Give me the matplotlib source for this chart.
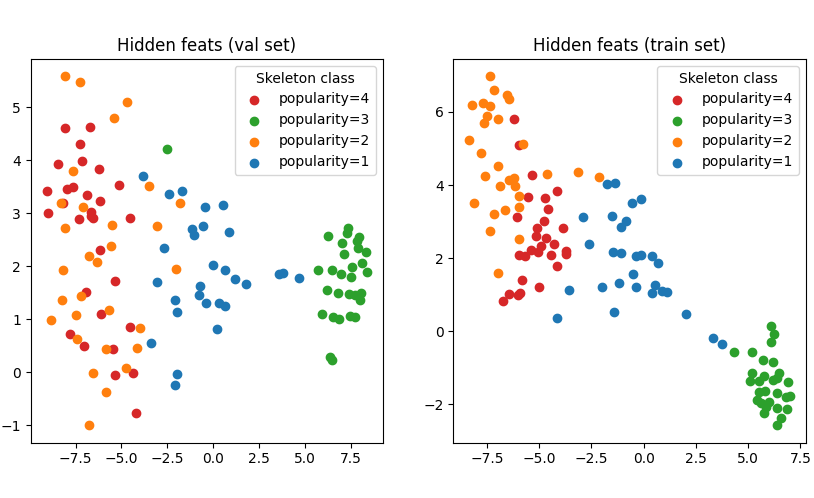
import matplotlib
matplotlib.use("Agg")
import matplotlib.pyplot as plt

# hidden features, validation set (x, y per class)
val_pop4_x = [-8.08, -6.72, -7.27, -8.47, -7.16, -6.23, -5.14, -9.07, -7.98, -7.65,
              -6.88, -6.18, -8.19, -9.01, -7.32, -6.67, -6.67, -6.56, -4.54, -6.18,
              -5.36, -6.92, -6.14, -4.55, -7.81, -7.05, -5.45, -4.35, -5.36, -4.21]
val_pop4_y = [4.61, 4.62, 4.30, 3.92, 3.98, 3.83, 3.53, 3.42, 3.45, 3.49,
              3.35, 3.23, 3.19, 3.00, 2.89, 3.03, 2.94, 2.91, 2.91, 2.31,
              1.72, 1.52, 1.10, 0.86, 0.73, 0.50, 0.43, -0.01, -0.06, -0.77]

val_pop3_x = [-2.52, 6.26, 7.34, 7.28, 7.96, 7.03, 7.81, 7.90, 8.32, 7.14,
              5.72, 6.46, 6.97, 7.56, 7.50, 8.10, 8.37, 6.21, 6.81, 7.39,
              7.72, 8.05, 8.01, 5.92, 6.54, 6.86, 7.45, 7.74, 6.37, 6.48]
val_pop3_y = [4.22, 2.57, 2.72, 2.63, 2.55, 2.44, 2.47, 2.34, 2.27, 2.23,
              1.92, 1.93, 1.85, 1.99, 1.80, 2.06, 1.89, 1.55, 1.50, 1.48,
              1.45, 1.50, 1.37, 1.09, 1.05, 1.01, 1.07, 1.05, 0.28, 0.24]

val_pop2_x = [-8.08, -7.27, -4.70, -5.41, -7.65, -3.50, -1.81, -8.30, -7.10, -8.08,
              -5.52, -3.07, -5.59, -6.78, -6.32, -2.05, -8.19, -7.21, -8.25, -5.68,
              -7.48, -8.81, -3.99, -7.41, -5.85, -4.16, -4.76, -6.56, -5.83, -6.78]
val_pop2_y = [5.58, 5.48, 5.09, 4.79, 3.80, 3.51, 3.20, 3.20, 3.11, 2.73,
              2.78, 2.76, 2.38, 2.19, 2.08, 1.95, 1.93, 1.44, 1.37, 1.18,
              1.08, 0.99, 0.84, 0.63, 0.43, 0.46, 0.08, -0.02, -0.38, -1.00]

val_pop1_x = [-3.83, -2.41, -1.70, -0.45, 0.53, -1.16, -0.56, -1.05, 0.85, -2.68,
              -0.01, 0.64, 1.19, 1.77, 3.56, 3.81, 4.68, -3.08, -0.74, -0.79,
              -0.37, 0.30, 0.64, -2.08, -1.97, 0.21, -3.39, -1.97, -2.10]
val_pop1_y = [3.70, 3.37, 3.42, 3.11, 3.15, 2.71, 2.76, 2.59, 2.64, 2.35,
              2.02, 1.92, 1.76, 1.67, 1.86, 1.87, 1.78, 1.70, 1.63, 1.45,
              1.30, 1.30, 1.25, 1.37, 1.13, 0.82, 0.56, -0.04, -0.24]

# hidden features, training set
train_pop4_x = [-6.18, -5.96, -5.32, -4.13, -5.54, -4.73, -4.56, -6.07, -4.78, -3.87,
                -5.08, -5.13, -4.65, -4.27, -4.91, -5.38, -5.04, -3.71, -3.70, -5.96,
                -5.69, -4.41, -4.14, -5.81, -5.91, -5.99, -4.99, -6.42, -6.71]
train_pop4_y = [5.80, 5.09, 4.27, 3.84, 3.67, 3.64, 3.34, 3.12, 3.03, 2.83,
                2.83, 2.61, 2.54, 2.38, 2.34, 2.23, 2.16, 2.21, 2.12, 2.08,
                2.06, 2.08, 1.79, 1.39, 1.06, 1.00, 1.22, 1.02, 0.83]

train_pop3_x = [4.33, 5.17, 6.10, 6.24, 6.10, 5.71, 6.19, 5.17, 5.76, 6.50,
                5.09, 5.52, 6.18, 6.37, 6.91, 5.52, 5.81, 6.38, 6.83, 6.99,
                5.41, 5.64, 6.00, 5.88, 6.38, 6.85, 5.76, 6.59, 6.38]
train_pop3_y = [-0.56, -0.56, 0.15, -0.07, -0.29, -0.78, -0.83, -1.15, -1.21, -1.15,
                -1.37, -1.37, -1.34, -1.29, -1.38, -1.65, -1.62, -1.69, -1.80, -1.78,
                -1.89, -1.95, -1.93, -2.06, -2.09, -2.12, -2.24, -2.38, -2.57]

train_pop2_x = [-7.33, -7.14, -6.52, -6.45, -8.19, -7.66, -7.36, -7.47, -6.98, -7.62,
                -5.75, -8.33, -7.76, -6.95, -7.57, -4.61, -3.12, -2.12, -6.85, -6.44,
                -6.18, -6.16, -5.94, -8.11, -6.61, -5.94, -7.14, -7.33, -5.94, -6.95]
train_pop2_y = [6.97, 6.61, 6.45, 6.36, 6.20, 6.24, 6.15, 5.90, 5.80, 5.69,
                5.11, 5.22, 4.87, 4.51, 4.24, 4.29, 4.35, 4.21, 3.97, 4.13,
                4.19, 3.97, 3.69, 3.50, 3.31, 3.39, 3.20, 2.74, 2.53, 1.59]

train_pop1_x = [-1.75, -1.39, -0.54, -0.11, -2.89, -1.50, -0.86, -1.07, -2.60, -1.47,
                -1.07, -0.37, -0.14, 0.41, 0.70, -0.50, -1.98, -1.17, -0.35, 0.53,
                0.41, 0.89, 1.10, -3.55, -1.40, -4.14, 2.04, 3.31, 3.74]
train_pop1_y = [4.02, 4.06, 3.51, 3.61, 3.12, 3.15, 3.02, 2.85, 2.39, 2.17,
                2.13, 2.07, 2.10, 2.05, 1.87, 1.57, 1.22, 1.32, 1.21, 1.27,
                1.05, 1.10, 1.08, 1.14, 0.53, 0.37, 0.46, -0.18, -0.36]

labels = ["popularity=4", "popularity=3", "popularity=2", "popularity=1"]
colors = ["tab:red", "tab:green", "tab:orange", "tab:blue"]

val_sets = [(val_pop4_x, val_pop4_y), (val_pop3_x, val_pop3_y),
            (val_pop2_x, val_pop2_y), (val_pop1_x, val_pop1_y)]
train_sets = [(train_pop4_x, train_pop4_y), (train_pop3_x, train_pop3_y),
              (train_pop2_x, train_pop2_y), (train_pop1_x, train_pop1_y)]

fig, axes = plt.subplots(1, 2, figsize=(8.14, 4.98), dpi=100)
fig.subplots_adjust(left=0.0377, right=0.9898, bottom=0.111, top=0.8815, wspace=0.2)

for ax, sets, title in zip(axes, [val_sets, train_sets],
                           ["Hidden feats (val set)", "Hidden feats (train set)"]):
    for (xs, ys), lab, col in zip(sets, labels, colors):
        ax.scatter(xs, ys, c=col, label=lab)
    ax.set_title(title)
    ax.legend(title="Skeleton class", loc="upper right")

plt.savefig("out.png", dpi=100)
